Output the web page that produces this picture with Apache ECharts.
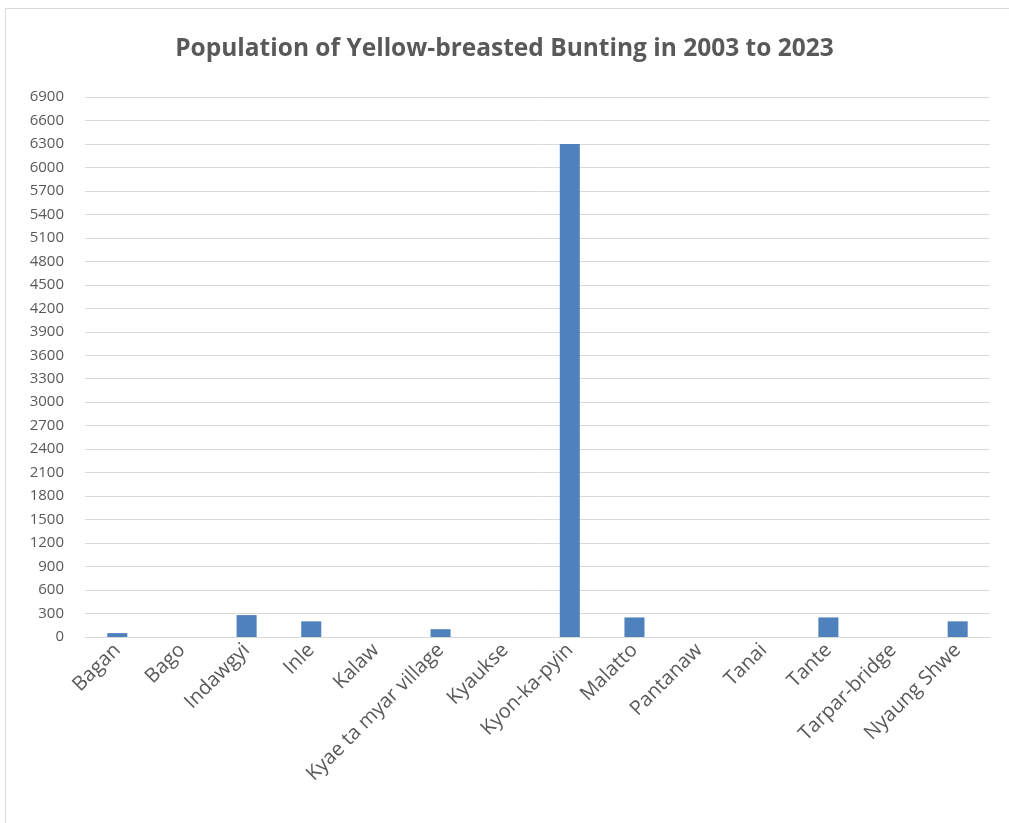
<!DOCTYPE html>
<html>
<head>
<meta charset="utf-8">
<script src="https://cdn.jsdelivr.net/npm/echarts@6/dist/echarts.min.js"></script>
<style>
html,body{margin:0;padding:0;background:#fff;overflow:hidden;}
#frame{position:absolute;left:5px;top:8px;width:1100px;height:900px;border:1px solid #d9d9d9;box-sizing:border-box;}
#chart{position:absolute;left:0;top:0;width:1009px;height:823px;}
</style>
</head>
<body>
<div id="frame"></div>
<div id="chart"></div>
<script>
const categories = ["Bagan","Bago","Indawgyi","Inle","Kalaw","Kyae ta myar village","Kyaukse","Kyon-ka-pyin","Malatto","Pantanaw","Tanai","Tante","Tarpar-bridge","Nyaung Shwe"];
const populationValues = [50, 0, 280, 200, 0, 100, 0, 6300, 250, 0, 0, 250, 0, 200];
const titleText = "Population of Yellow-breasted Bunting in 2003 to 2023";

const chart = echarts.init(document.getElementById('chart'), null, {renderer:'canvas'});
chart.setOption({
  animation:false,
  title:{
    text:titleText,
    left:'center',
    top:32,
    textStyle:{fontFamily:'Open Sans',fontWeight:'bold',fontSize:24.5,color:'#595959'}
  },
  grid:{left:85,right:19,top:97,bottom:186,containLabel:false},
  xAxis:{
    type:'category',
    data:categories,
    axisLine:{show:true,lineStyle:{color:'#d9d9d9',width:1}},
    axisTick:{show:false},
    axisLabel:{
      interval:0,rotate:45,color:'#595959',fontFamily:'Open Sans',fontSize:20,margin:10
    }
  },
  yAxis:{
    type:'value',
    min:0,max:6900,interval:300,
    axisLine:{show:false},
    axisTick:{show:false},
    axisLabel:{color:'#595959',fontFamily:'Open Sans',fontSize:15,margin:21,formatter:function(v){return String(v);}},
    splitLine:{lineStyle:{color:'#d9d9d9',width:1}}
  },
  series:[{
    type:'bar',
    data:populationValues,
    barWidth:'31%',
    itemStyle:{color:'#4f81bd'}
  }]
});
</script>
</body>
</html>
